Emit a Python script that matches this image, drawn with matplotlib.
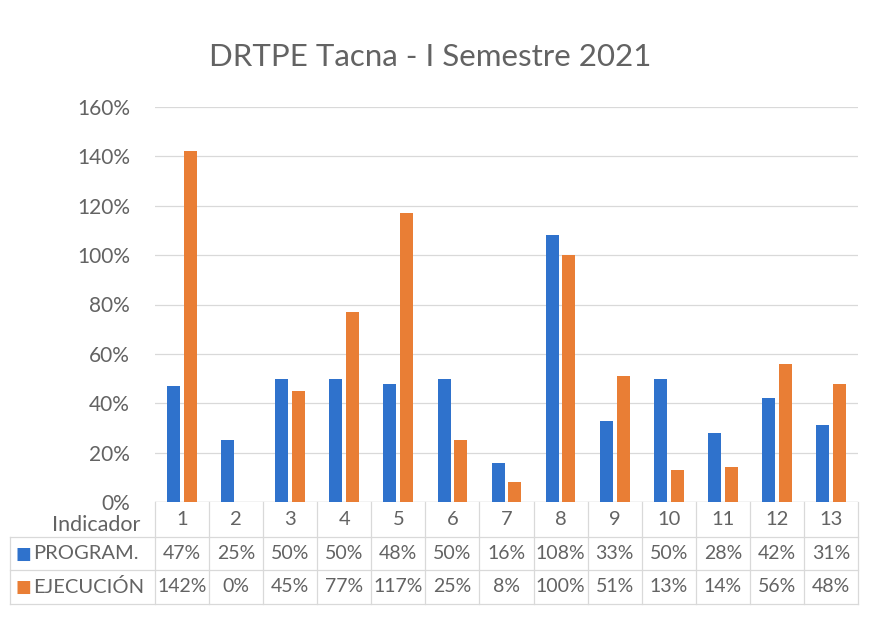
import numpy as np
import matplotlib.pyplot as plt
import matplotlib.transforms as mtransforms

plt.rcParams['font.family'] = ['Lato', 'DejaVu Sans']

indicadores = ['1', '2', '3', '4', '5', '6', '7', '8', '9', '10', '11', '12', '13']
program = [47, 25, 50, 50, 48, 50, 16, 108, 33, 50, 28, 42, 31]
ejecucion = [142, 0, 45, 77, 117, 25, 8, 100, 51, 13, 14, 56, 48]
series_names = ['PROGRAM.', 'EJECUCIÓN']

blue = '#2f72cc'
orange = '#e97e35'
txt = '#636363'
grid = '#d9d9d9'

fig = plt.figure(figsize=(8.72, 6.18), dpi=100)
ax = fig.add_axes([155 / 872, 1 - 502 / 618, 703 / 872, 395 / 618])

x = np.arange(1, len(indicadores) + 1)
w = 0.24
ax.bar(x - 0.155, np.array(program) / 100, w, color=blue, zorder=3)
ax.bar(x + 0.155, np.array(ejecucion) / 100, w, color=orange, zorder=3)

ax.set_xlim(0.5, len(indicadores) + 0.5)
ax.set_ylim(0, 1.6)
yt = np.arange(0, 1.61, 0.2)
ax.set_yticks(yt)
ax.set_yticklabels([f'{int(round(v * 100))}%' for v in yt], color=txt, fontsize=15)
ax.tick_params(axis='y', length=0, pad=18)
ax.set_xticks([])
ax.grid(axis='y', color=grid, lw=0.9, zorder=0)
for s in ax.spines.values():
    s.set_visible(False)
ax.axhline(0, color=grid, lw=1, zorder=2)

fig.suptitle('DRTPE Tacna - I Semestre 2021', x=430 / 872, y=1 - 57 / 618,
             va='center', fontsize=22.5, color=txt)

# data table below the axes
trans = mtransforms.blended_transform_factory(ax.transData, ax.transAxes)
H = 395.0
rows = [(502 - 537) / H, (502 - 570) / H, (502 - 604) / H]
mid = [(0 + rows[0]) / 2, (rows[0] + rows[1]) / 2, (rows[1] + rows[2]) / 2]
left_ax = (10 - 155) / 703.0

for y in rows:
    ax.plot([left_ax, 1], [y, y], transform=ax.transAxes, color=grid, lw=0.9, clip_on=False)
for b in np.arange(0.5, len(indicadores) + 1, 1.0):
    ax.plot([b, b], [0, rows[2]], transform=trans, color=grid, lw=0.9, clip_on=False)
ax.plot([left_ax, left_ax], [rows[0], rows[2]], transform=ax.transAxes, color=grid, lw=0.9, clip_on=False)

ax.text(-0.083, mid[0] - 0.015, 'Indicador', transform=ax.transAxes, ha='center', va='center',
        fontsize=15.5, color=txt)
for i, lab in enumerate(indicadores):
    ax.text(x[i], mid[0], lab, transform=trans, ha='center', va='center', fontsize=14.5, color=txt)
    ax.text(x[i], mid[1], f'{program[i]}%', transform=trans, ha='center', va='center',
            fontsize=14, color=txt)
    ax.text(x[i], mid[2], f'{ejecucion[i]}%', transform=trans, ha='center', va='center',
            fontsize=14, color=txt)

for r, name, col in [(1, series_names[0], blue), (2, series_names[1], orange)]:
    ax.text(left_ax + 0.008, mid[r], '■', transform=ax.transAxes, ha='left', va='center',
            fontsize=12, color=col, family=['DejaVu Sans'], fontweight='normal')
    ax.text(left_ax + 0.033, mid[r], name, transform=ax.transAxes, ha='left', va='center',
            fontsize=14.5, color=txt)

fig.savefig('out.png', dpi=100, facecolor='white')
